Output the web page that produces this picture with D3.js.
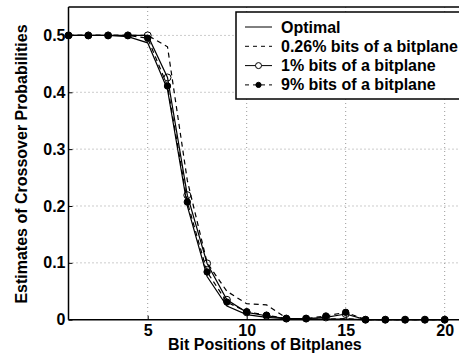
<!DOCTYPE html>
<html>
<head>
<meta charset="utf-8">
<script src="https://cdn.jsdelivr.net/npm/d3@7"></script>
<style>
  body { margin: 0; background: #fff; }
  svg { display: block; font-family: "Liberation Sans", Arial, Helvetica, sans-serif; font-weight: bold; }
</style>
</head>
<body>
<svg id="chart"></svg>
<script>
// bit positions 1..20
var bits = [1,2,3,4,5,6,7,8,9,10,11,12,13,14,15,16,17,18,19,20];

var optimal  = [0.5,0.5,0.5,0.498,0.487,0.405,0.200,0.076,0.024,0.009,0.004,0.002,0.001,0.001,0.001,0,0,0,0,0];
var pct026   = [0.5,0.5,0.5,0.5,0.5,0.480,0.245,0.100,0.050,0.028,0.026,0.003,0.001,0.001,0.002,0,0,0,0,0];
var pct1     = [0.5,0.5,0.5,0.5,0.5,0.426,0.219,0.099,0.035,0.013,0.007,0.002,0.002,0.004,0.010,0,0,0,0,0];
var pct9     = [0.5,0.5,0.5,0.5,0.495,0.411,0.207,0.084,0.031,0.014,0.008,0.002,0.002,0.0065,0.013,0,0,0,0,0];

var xTicks = [5,10,15,20];
var yTicks = [0,0.1,0.2,0.3,0.4,0.5];
var legendLabels = ["Optimal", "0.26% bits of a bitplane", "1% bits of a bitplane", "9% bits of a bitplane"];

var width = 459, height = 356;
var plotLeft = 68.5, plotTop = 7, plotBottom = 319.7;

var svg = d3.select("#chart").attr("width", width).attr("height", height);

var x = d3.scaleLinear().domain([1, 21]).range([plotLeft, plotLeft + 20 * 19.8]);
var y = d3.scaleLinear().domain([0, 0.55]).range([plotBottom, plotTop]);

// grid
var grid = svg.append("g");
grid.selectAll("line.gx").data(xTicks).enter().append("line")
  .attr("x1", function (d) { return x(d); }).attr("x2", function (d) { return x(d); })
  .attr("y1", plotTop).attr("y2", plotBottom)
  .attr("stroke", "#999").attr("stroke-width", 1).attr("stroke-dasharray", "1,3");
grid.selectAll("line.gy").data(yTicks.slice(1)).enter().append("line")
  .attr("y1", function (d) { return y(d); }).attr("y2", function (d) { return y(d); })
  .attr("x1", plotLeft).attr("x2", width)
  .attr("stroke", "#999").attr("stroke-width", 1).attr("stroke-dasharray", "1,3");

// axes
var xAxis = d3.axisBottom(x).tickValues(xTicks).tickSize(-4).tickPadding(5).tickFormat(d3.format("d"));
var yAxis = d3.axisLeft(y).tickValues(yTicks).tickSize(-4).tickPadding(3)
  .tickFormat(function (d) { return d === 0 ? "0" : d3.format(".1f")(d); });

var gx = svg.append("g").attr("transform", "translate(0," + plotBottom + ")").call(xAxis);
var gy = svg.append("g").attr("transform", "translate(" + plotLeft + ",0)").call(yAxis);
[gx, gy].forEach(function (g) {
  g.select(".domain").remove();
  g.selectAll("line").attr("stroke", "#000").attr("stroke-width", 1);
  g.selectAll("text").attr("fill", "#000").style("font-size", "16px").style("font-weight", "bold")
    .style("font-family", "'Liberation Sans', Arial, sans-serif");
});

// frame
svg.append("line").attr("x1", plotLeft).attr("x2", width).attr("y1", plotBottom).attr("y2", plotBottom).attr("stroke", "#000").attr("stroke-width", 1.5);
svg.append("line").attr("x1", plotLeft).attr("x2", width).attr("y1", plotTop).attr("y2", plotTop).attr("stroke", "#000").attr("stroke-width", 1.5);
svg.append("line").attr("x1", plotLeft).attr("x2", plotLeft).attr("y1", plotTop).attr("y2", plotBottom).attr("stroke", "#000").attr("stroke-width", 1.5);

// series
var series = [
  { values: optimal, dash: null, marker: null },
  { values: pct026, dash: "5,4", marker: null },
  { values: pct1, dash: null, marker: "open" },
  { values: pct9, dash: "5,4", marker: "filled" }
];

var line = d3.line()
  .x(function (d) { return x(d[0]); })
  .y(function (d) { return y(d[1]); });

series.forEach(function (s) {
  var pts = bits.map(function (b, i) { return [b, s.values[i]]; });
  svg.append("path").datum(pts)
    .attr("d", line)
    .attr("fill", "none")
    .attr("stroke", "#000")
    .attr("stroke-width", 1.2)
    .attr("stroke-dasharray", s.dash);
  if (s.marker) {
    svg.selectAll(null).data(pts).enter().append("circle")
      .attr("cx", function (d) { return x(d[0]); })
      .attr("cy", function (d) { return y(d[1]); })
      .attr("r", s.marker === "open" ? 3.5 : 3.2)
      .attr("fill", s.marker === "open" ? "none" : "#000")
      .attr("stroke", "#000")
      .attr("stroke-width", 1);
  }
});

// axis titles
svg.append("text")
  .attr("x", (168 + 361.7) / 2).attr("y", 350)
  .attr("text-anchor", "middle")
  .style("font-size", "16px")
  .text("Bit Positions of Bitplanes");

svg.append("text")
  .attr("transform", "translate(27,164) rotate(-90)")
  .attr("text-anchor", "middle")
  .style("font-size", "16px")
  .text("Estimates of Crossover Probabilities");

// legend
var lg = svg.append("g");
lg.append("rect")
  .attr("x", 236).attr("y", 12).attr("width", 240).attr("height", 87)
  .attr("fill", "#fff").attr("stroke", "#000").attr("stroke-width", 1.5);

var rows = lg.selectAll("g.row").data(series).enter().append("g")
  .attr("transform", function (d, i) { return "translate(0," + (27 + i * 19.3) + ")"; });

rows.append("line")
  .attr("x1", 245).attr("x2", 272).attr("y1", 0).attr("y2", 0)
  .attr("stroke", "#000").attr("stroke-width", 1)
  .attr("stroke-dasharray", function (d) { return d.dash ? "4,4" : null; });

rows.filter(function (d) { return d.marker; }).append("circle")
  .attr("cx", 258.5).attr("cy", 0)
  .attr("r", function (d) { return d.marker === "open" ? 3 : 2.6; })
  .attr("fill", function (d) { return d.marker === "open" ? "#fff" : "#000"; })
  .attr("stroke", "#000").attr("stroke-width", 1);

rows.append("text")
  .attr("x", 281).attr("y", 5.5)
  .style("font-size", "16px")
  .text(function (d, i) { return legendLabels[i]; });
</script>
</body>
</html>
